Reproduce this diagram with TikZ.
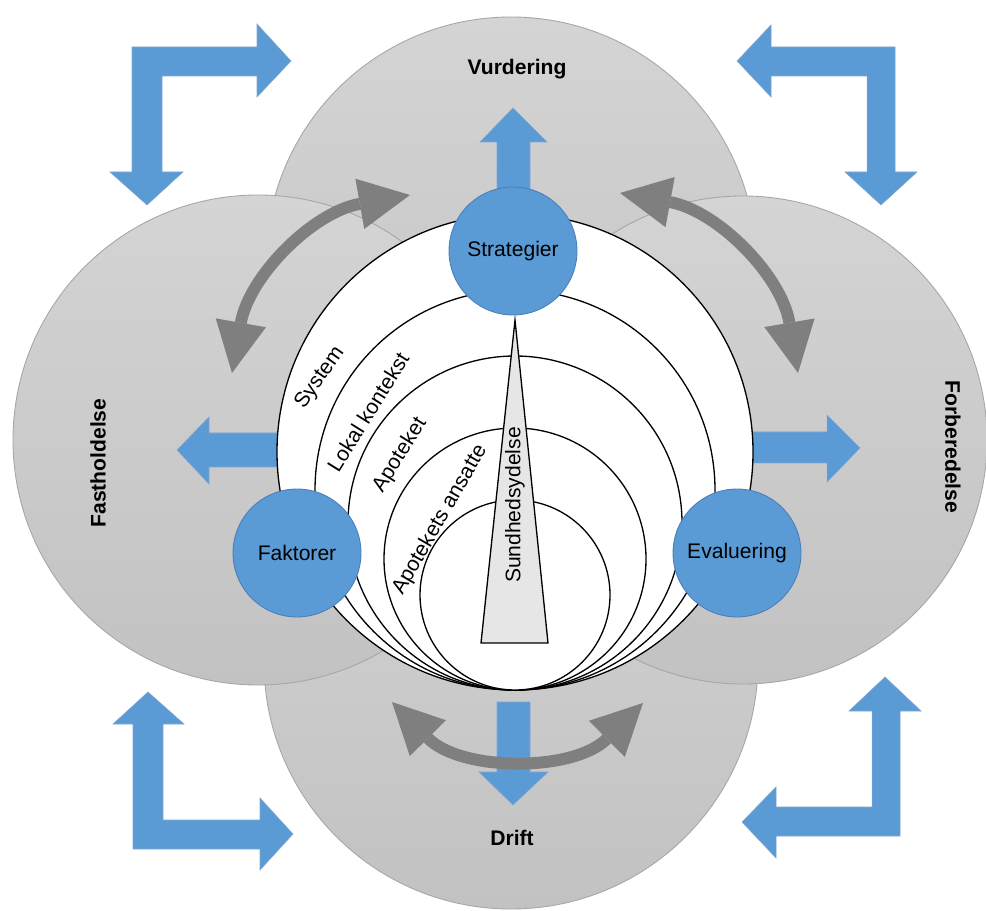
\documentclass[tikz,border=0pt]{standalone}
\usepackage{fontspec}
\setmainfont{Liberation Sans}
\usetikzlibrary{arrows.meta}

\definecolor{blaa}{HTML}{5B9BD5}
\definecolor{blaakant}{HTML}{4A7EBB}
\definecolor{pilgraa}{HTML}{7F7F7F}
\definecolor{faselys}{HTML}{D4D4D4}
\definecolor{fasemork}{HTML}{C2C2C2}
\definecolor{fasekant}{HTML}{A6A6A6}
\definecolor{spids}{HTML}{E6E6E6}

\begin{document}
\begin{tikzpicture}[x=0.02cm, y=-0.02cm,
        fase/.style={draw=fasekant, line width=0.5pt, top color=faselys, bottom color=fasemork},
        ring/.style={draw=black, line width=0.75pt, fill=white},
        rund/.style={circle, draw=blaakant, line width=0.5pt, fill=blaa, minimum size=2.56cm, inner sep=0pt, font=\fontsize{12}{14}\selectfont},
        blaapil/.style={draw=blaakant!70, line width=0.3pt, fill=blaa},
        dobbelt/.style={draw=pilgraa, line width=6.8pt,
            {Triangle[length=29pt, width=29pt, line width=0pt]}-{Triangle[length=29pt, width=29pt, line width=0pt]}},
        fasenavn/.style={font=\fontsize{12}{14}\selectfont\bfseries},
        lag/.style={font=\fontsize{12}{14}\selectfont, inner sep=0pt}]
        \useasboundingbox (0,0) rectangle (986,911);

        % De fire faser
        \draw[fase] (511,262) circle (245);
        \draw[fase] (511,662) circle (247);
        \draw[fase] (258,440) circle (245);
        \draw[fase] (743,440) circle (244);

        % Pile ud fra midten (delvist skjult)
        \draw[blaapil] (513,108) -- (547,142) -- (530,142) -- (530,200) -- (497,200) -- (497,142) -- (480,142) -- cycle;
        \draw[blaapil] (177,450) -- (209,417) -- (209,433) -- (290,433) -- (290,467) -- (209,467) -- (209,484) -- cycle;
        \draw[blaapil] (860,448) -- (827,415) -- (827,432) -- (750,432) -- (750,463) -- (827,463) -- (827,482) -- cycle;

        % Lagene, alle rører bunden
        \draw[ring] (515,452) circle (238);
        \draw[ring] (515,490) circle (200);
        \draw[ring] (515,523) circle (167);
        \draw[ring] (515,559) circle (131);
        \draw[ring] (515,595) circle (95);

        \draw[draw=black, line width=0.75pt, fill=spids] (515,320) -- (548,643) -- (481,643) -- cycle;

        \node[lag, rotate=55] (system) at (320,378) {System};
        \node[lag, rotate=58] (lokal) at (368,412) {Lokal kontekst};
        \node[lag, rotate=58] (apoteket) at (400,455) {Apoteket};
        \node[lag, rotate=60] (ansatte) at (440,520) {Apotekets ansatte};
        \node[lag, rotate=90] (ydelse) at (515,505) {Sundhedsydelse};

        % Cirklerne
        \node[rund] (strategier) at (513,251) {Strategier};
        \node[rund] (faktorer) at (297,553) {Faktorer};
        \node[rund] (evaluering) at (737,553) {Evaluering};

        % Fasernes navne
        \node[fasenavn] (vurdering) at (517,69) {Vurdering};
        \node[fasenavn] (drift) at (512,838) {Drift};
        \node[fasenavn, rotate=90] (fastholdelse) at (98,463) {Fastholdelse};
        \node[fasenavn, rotate=-90] (forberedelse) at (953,447) {Forberedelse};

        % Dobbeltpile
        \coordinate (vA) at (232,373);
        \coordinate (vB) at (410,195);
        \coordinate (hA) at (620,193);
        \coordinate (hB) at (798,373);
        \coordinate (bA) at (392,702);
        \coordinate (bB) at (643,703);
        \draw[dobbelt] (vA) to[bend left=35] (vB);
        \draw[dobbelt] (hA) to[bend left=35] (hB);

        \draw[blaapil] (513,805) -- (548,772) -- (530,772) -- (530,702) -- (497,702) -- (497,772) -- (479,772) -- cycle;
        \draw[dobbelt] (bA) to[bend right=45] (bB);

        % Hjørnepile
        \draw[blaapil] (147,205) -- (183,172) -- (162,172) -- (162,76) -- (257,76) -- (257,97) -- (291,61)
            -- (257,24) -- (257,47) -- (132,47) -- (132,172) -- (110,172) -- cycle;
        \draw[blaapil] (737,61) -- (771,25) -- (771,47) -- (895,47) -- (895,172) -- (917,172) -- (881,205)
            -- (845,172) -- (867,172) -- (867,76) -- (771,76) -- (771,97) -- cycle;
        \draw[blaapil] (148,692) -- (184,724) -- (163,724) -- (163,820) -- (260,820) -- (260,798) -- (293,834)
            -- (260,870) -- (260,849) -- (133,849) -- (133,724) -- (113,724) -- cycle;
        \draw[blaapil] (885,677) -- (921,711) -- (900,711) -- (900,836) -- (776,836) -- (776,858) -- (742,822)
            -- (776,787) -- (776,807) -- (872,807) -- (872,711) -- (849,711) -- cycle;
    \end{tikzpicture}
\end{document}
